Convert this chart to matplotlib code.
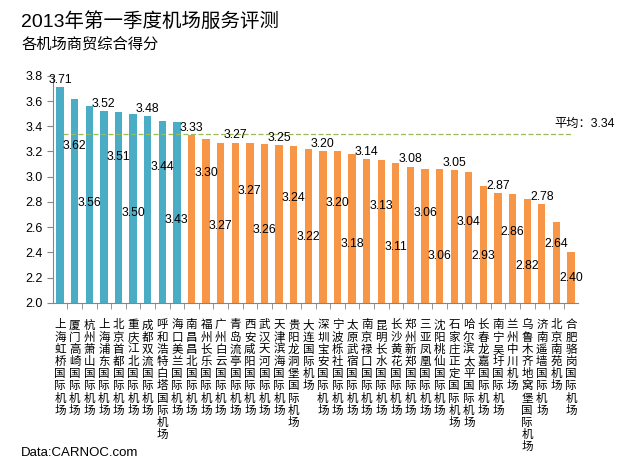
import matplotlib
matplotlib.use("Agg")
import matplotlib.pyplot as plt
import numpy as np

plt.rcParams["font.family"] = ["Liberation Sans", "Noto Sans CJK SC", "DejaVu Sans"]

airports = ["上海虹桥国际机场", "厦门高崎国际机场", "杭州萧山国际机场", "上海浦东国际机场",
            "北京首都国际机场", "重庆江北国际机场", "成都双流国际机场", "呼和浩特白塔国际机场",
            "海口美兰国际机场", "南昌昌北国际机场", "福州长乐国际机场", "广州白云国际机场",
            "青岛流亭国际机场", "西安咸阳国际机场", "武汉天河国际机场", "天津滨海国际机场",
            "贵阳龙洞堡国际机场", "大连国际机场", "深圳宝安国际机场", "宁波栎社国际机场",
            "太原武宿国际机场", "南京禄口国际机场", "昆明长水国际机场", "长沙黄花国际机场",
            "郑州新郑国际机场", "三亚凤凰国际机场", "沈阳桃仙国际机场", "石家庄正定国际机场",
            "哈尔滨太平国际机场", "长春龙嘉国际机场", "南宁吴圩国际机场", "兰州中川机场",
            "乌鲁木齐地窝堡国际机场", "济南遥墙国际机场", "北京南苑机场", "合肥骆岗国际机场"]
scores = [3.71, 3.62, 3.56, 3.52, 3.51, 3.50, 3.48, 3.44, 3.43,
          3.33, 3.30, 3.27, 3.27, 3.27, 3.26, 3.25, 3.24, 3.22,
          3.20, 3.20, 3.18, 3.14, 3.13, 3.11, 3.08, 3.06, 3.06,
          3.05, 3.04, 2.93, 2.87, 2.86, 2.82, 2.78, 2.64, 2.40]
n_top = 9  # first group drawn in blue
average = 3.34

# where the staggered value labels sit (middle / lower rows)
mid_y = [3.24, 3.16, 3.08, 3.03, 2.89, 2.83, 2.79, 2.77, 2.71, 2.64, 2.56, 2.47]
low_y = [2.79, 2.71, 2.66, 2.61, 2.58, 2.52, 2.47, 2.44, 2.37, 2.37, 2.29, 2.20]

blue = "#4BACC6"
orange = "#F79646"
gray = "#868686"

x = np.arange(len(scores))
colors = [blue if i < n_top else orange for i in x]

fig = plt.figure(figsize=(6.44, 4.68), dpi=100)
ax = fig.add_axes([0.082, 0.353, 0.816, 0.485])

ax.bar(x, np.array(scores) - 2.0, bottom=2.0, width=0.5, color=colors)
ax.plot([x[0] + 0.2, x[-1]], [average, average], ls=(0, (4, 2)), color="#9BBB59", lw=0.9)
ax.annotate("平均：3.34", (x[-1], average), xytext=(14, 4), textcoords="offset pixels",
            ha="center", va="bottom", fontsize=8.8)

for i, v in enumerate(scores):
    k, r = divmod(i, 3)
    if r == 0:
        ax.text(i, v + 0.01, f"{v:.2f}", ha="center", va="bottom", fontsize=8.8)
    elif r == 1:
        ax.text(i, mid_y[k], f"{v:.2f}", ha="center", va="center", fontsize=8.8)
    else:
        ax.text(i, low_y[k], f"{v:.2f}", ha="center", va="center", fontsize=8.8)

ax.set_xlim(-0.5, len(scores) - 0.5)
ax.set_ylim(2.0, 3.8)
ax.set_yticks(np.arange(2.0, 3.81, 0.2))
ax.set_yticklabels([f"{t:.1f}" for t in np.arange(2.0, 3.81, 0.2)], fontsize=9)
ax.set_xticks(x)
ax.set_xticklabels(["\n".join(s) for s in airports], fontsize=8.3, linespacing=1.02,
                   va="top")
ax.set_xticks(x[:-1] + 0.5, minor=True)
ax.tick_params(axis="x", which="major", length=0, pad=12)
ax.tick_params(axis="x", which="minor", length=4, color=gray)
ax.tick_params(axis="y", length=4, color=gray)
for s in ["top", "right"]:
    ax.spines[s].set_visible(False)
for s in ["left", "bottom"]:
    ax.spines[s].set_color(gray)

fig.text(0.033, 0.954, "2013年第一季度机场服务评测", fontsize=14, va="center")
fig.text(0.033, 0.906, "各机场商贸综合得分", fontsize=11, va="center")
fig.text(0.033, 0.032, "Data:CARNOC.com", fontsize=9.5, va="center")

fig.savefig("out.png", dpi=100)
